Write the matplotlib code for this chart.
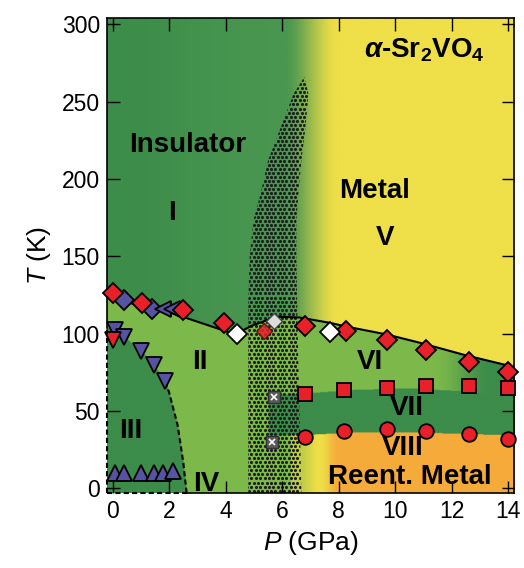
import numpy as np
import matplotlib.pyplot as plt
from matplotlib.patches import Polygon

plt.rcParams['font.family'] = ['Liberation Sans', 'DejaVu Sans']
plt.rcParams['mathtext.fontset'] = 'custom'
plt.rcParams['mathtext.rm'] = 'Liberation Sans'
plt.rcParams['mathtext.it'] = 'Liberation Sans:italic'
plt.rcParams['mathtext.bf'] = 'Liberation Sans:bold'
plt.rcParams['mathtext.bfit'] = 'Liberation Sans:italic:bold'

# --- phase boundaries (P in GPa, T in K) ---
line_p = [-0.2, 2.15, 4.35, 4.9, 5.8, 6.6, 7.7, 8.3, 9.7, 10.9, 12.5, 14.2]
line_t = [123.5, 113, 99.5, 105, 111, 110.5, 107, 104.5, 99.5, 94, 86, 78.5]

iii_p = [-0.2, 0.1, 0.4, 1.0, 1.45, 1.87, 2.0, 2.3, 2.5, 2.62]
iii_t = [104, 103, 98, 89, 80, 69, 62, 41, 17, -3]
dash_p = [1.87, 2.0, 2.3, 2.5, 2.62]
dash_t = [69, 62, 41, 17, -3]

band_p = [5.5, 7.0, 8.5, 10.5, 12.5, 14.2]
vii_top = [60, 61.5, 63.5, 64.5, 62.5, 60]
viii_top = [34, 34.5, 36, 36, 35, 34]

# stippled coexistence region
dots_left_p = [4.8, 4.8, 4.85, 4.98, 5.23, 5.5, 5.94, 6.4, 6.78]
dots_left_t = [-3, 120, 150, 173, 190, 212, 233, 255, 266]
dots_right_p = [6.93, 6.82, 6.68, 6.57, 6.5, 6.5, 6.55, 6.68]
dots_right_t = [255, 233, 212, 190, 173, 150, 100, -3]

# --- measured points ---
red_dia_p = [0.0, 1.05, 2.5, 3.95, 6.8, 8.25, 9.7, 11.1, 12.6, 14.0]
red_dia_t = [126.5, 120, 115.5, 107, 105, 102, 96, 89.5, 81.5, 75.5]
white_dia_p = [4.4, 7.7]
white_dia_t = [100, 101]
blue_dia_p = [0.4, 1.4]
blue_dia_t = [121.5, 116]
blue_left_p = [1.8, 2.1]
blue_left_t = [116, 116]
blue_down_p = [0.1, 0.4, 1.0, 1.45, 1.87]
blue_down_t = [102.5, 98, 89, 80, 69.5]
red_down_p = [0.0]
red_down_t = [96]
blue_up_p = [0.1, 0.42, 1.0, 1.45, 1.8, 2.15]
blue_up_t = [9.7, 9.7, 9.7, 9.7, 9.7, 11]
red_sq_p = [6.8, 8.2, 9.7, 11.1, 12.6, 14.0]
red_sq_t = [61, 63.5, 65, 66.5, 66.5, 65]
red_circ_p = [6.8, 8.2, 9.7, 11.1, 12.6, 14.0]
red_circ_t = [33, 37, 38.5, 37, 35, 32]
gray_p = [5.7, 5.65]
gray_t = [59, 30]
mixed_p = [5.35, 5.7]
mixed_t = [102, 108]

xlim = (-0.2, 14.2)
ylim = (-3, 304)

dark = np.array([60, 140, 74]) / 255
dark_r = np.array([72, 150, 80]) / 255
light = np.array([124, 185, 74]) / 255
yellow = np.array([239, 223, 72]) / 255
orange = np.array([245, 171, 58]) / 255
yg = np.array([190, 205, 72]) / 255


def smooth(x, a, b):
    s = np.clip((x - a) / (b - a), 0, 1)
    return (s * s * (3 - 2 * s))[..., None]


pp = np.linspace(xlim[0], xlim[1], 800)
tt = np.linspace(ylim[0], ylim[1], 800)
P, T = np.meshgrid(pp, tt)

base = dark + (dark_r - dark) * smooth(P, -0.2, 5.5)
img = base + (yellow - base) * smooth(P, 6.0, 8.0)
below = T < np.interp(P, line_p, line_t)
vi = light + (dark - light) * smooth(P, 11.3, 13.4)
img[below] = vi[below]
iii = (T < np.interp(P, iii_p, iii_t)) & (P < 2.62)
img[iii] = dark
band = (P > 5.5) & (T < np.interp(P, band_p, vii_top))
img[band] = dark
viii = (P > 6.3) & (T < np.interp(P, band_p, viii_top))
oc = yg + (yellow - yg) * smooth(P, 6.6, 7.3)
oc = oc + (orange - oc) * smooth(P, 7.3, 8.0)
img[viii] = oc[viii]
low = (P > 4.8) & (P <= 6.3) & (T < np.interp(P, band_p, viii_top))
img[low] = light

fig = plt.figure(figsize=(5.24, 5.68), dpi=100)
ax = fig.add_axes([0.204, 0.132, 0.777, 0.836])
ax.imshow(img, origin='lower', extent=[*xlim, *ylim], aspect='auto',
          interpolation='bilinear', zorder=0)

# stipple texture: staggered dot grid clipped to the region outline
poly = list(zip(dots_left_p, dots_left_t)) + list(zip(dots_right_p, dots_right_t))
patch = Polygon(poly, closed=True, facecolor='none', edgecolor='none', zorder=1)
ax.add_patch(patch)
gx = np.arange(4.6, 7.1, 0.155)
gy = np.arange(-4, 270, 2.6)
GX, GY = np.meshgrid(gx, gy)
GX = GX + (np.arange(len(gy)) % 2)[:, None] * 0.0775
dots = ax.scatter(GX.ravel(), GY.ravel(), s=5, marker='o', color='#1e1e1e',
                  linewidths=0, zorder=1)
dots.set_clip_path(patch)

ax.plot(line_p, line_t, color='black', lw=1.5, zorder=2)
ax.plot(dash_p, dash_t, color='black', lw=1.5, ls=(0, (2.5, 1.5)), zorder=2,
        clip_on=False)
ax.plot([xlim[0], 2.62], [ylim[0], ylim[0]], color='black', lw=1.5,
        ls=(0, (2.5, 1.5)), clip_on=False, zorder=5)
ax.plot([xlim[0], xlim[0]], [ylim[0], 104], color='black', lw=1.5,
        ls=(0, (2.5, 1.5)), clip_on=False, zorder=5)

red = '#e8202a'
blue = '#5753a3'
mk = dict(markeredgecolor='black', markeredgewidth=1.3, ls='none', zorder=4,
          clip_on=False)
ax.plot(blue_dia_p, blue_dia_t, 'D', color=blue, ms=10, **mk)
ax.plot(blue_left_p, blue_left_t, '<', color=blue, ms=12, **mk)
ax.plot(red_dia_p, red_dia_t, 'D', color=red, ms=10, **mk)
ax.plot(white_dia_p, white_dia_t, 'D', color='white', ms=10, **mk)
ax.plot(blue_down_p, blue_down_t, 'v', color=blue, ms=12, **mk)
ax.plot(red_down_p, red_down_t, 'v', color=red, ms=12, **mk)
ax.plot(blue_up_p, blue_up_t, '^', color=blue, ms=12, **mk)
ax.plot(red_sq_p, red_sq_t, 's', color=red, ms=10, **mk)
ax.plot(red_circ_p, red_circ_t, 'o', color=red, ms=10.5, **mk)
ax.plot(gray_p, gray_t, 's', color='#5a5a5a', ms=8, markeredgecolor='#333333',
        ls='none', zorder=4)
ax.plot(gray_p, gray_t, 'x', color='white', ms=4, mew=1.2, ls='none', zorder=4)
ax.plot(mixed_p[:1], mixed_t[:1], 'D', color=red, ms=8, markeredgecolor='#551111',
        ls='none', zorder=4, alpha=0.85)
ax.plot(mixed_p[1:], mixed_t[1:], 'D', color='#dddddd', ms=8,
        markeredgecolor='#444444', ls='none', zorder=4)

lab = dict(fontsize=20, fontweight='bold', ha='center', va='center', zorder=6)
ax.text(2.65, 222, 'Insulator', **lab)
ax.text(2.1, 178, 'I', **lab)
ax.text(9.25, 192, 'Metal', **lab)
ax.text(9.65, 162, 'V', **lab)
ax.text(3.1, 82, 'II', **lab)
ax.text(0.64, 37, 'III', **lab)
ax.text(3.3, 3, 'IV', **lab)
ax.text(9.1, 82, 'VI', **lab)
ax.text(10.4, 52, 'VII', **lab)
ax.text(10.25, 26, 'VIII', **lab)
ax.text(10.5, 7.5, 'Reent. Metal', **lab)
ax.text(13.15, 283, r'$\mathbfit{\alpha}$-Sr$_\mathbf{2}$VO$_\mathbf{4}$',
        fontsize=20, fontweight='bold', ha='right', va='center', zorder=6)

ax.set_xlim(*xlim)
ax.set_ylim(*ylim)
ax.set_xticks(range(0, 15, 2))
ax.set_yticks(range(0, 301, 50))
ax.tick_params(direction='in', top=True, right=True, length=9, width=1,
               labelsize=16.5, pad=5)
ax.spines['left'].set_bounds(104, ylim[1])
ax.spines['bottom'].set_bounds(2.62, xlim[1])
for s in ax.spines.values():
    s.set_linewidth(1.2)
ax.set_xlabel(r'$P$ (GPa)', fontsize=19, labelpad=4)
ax.set_ylabel(r'$T$ (K)', fontsize=19, labelpad=6)

fig.savefig('out.png', dpi=100)
